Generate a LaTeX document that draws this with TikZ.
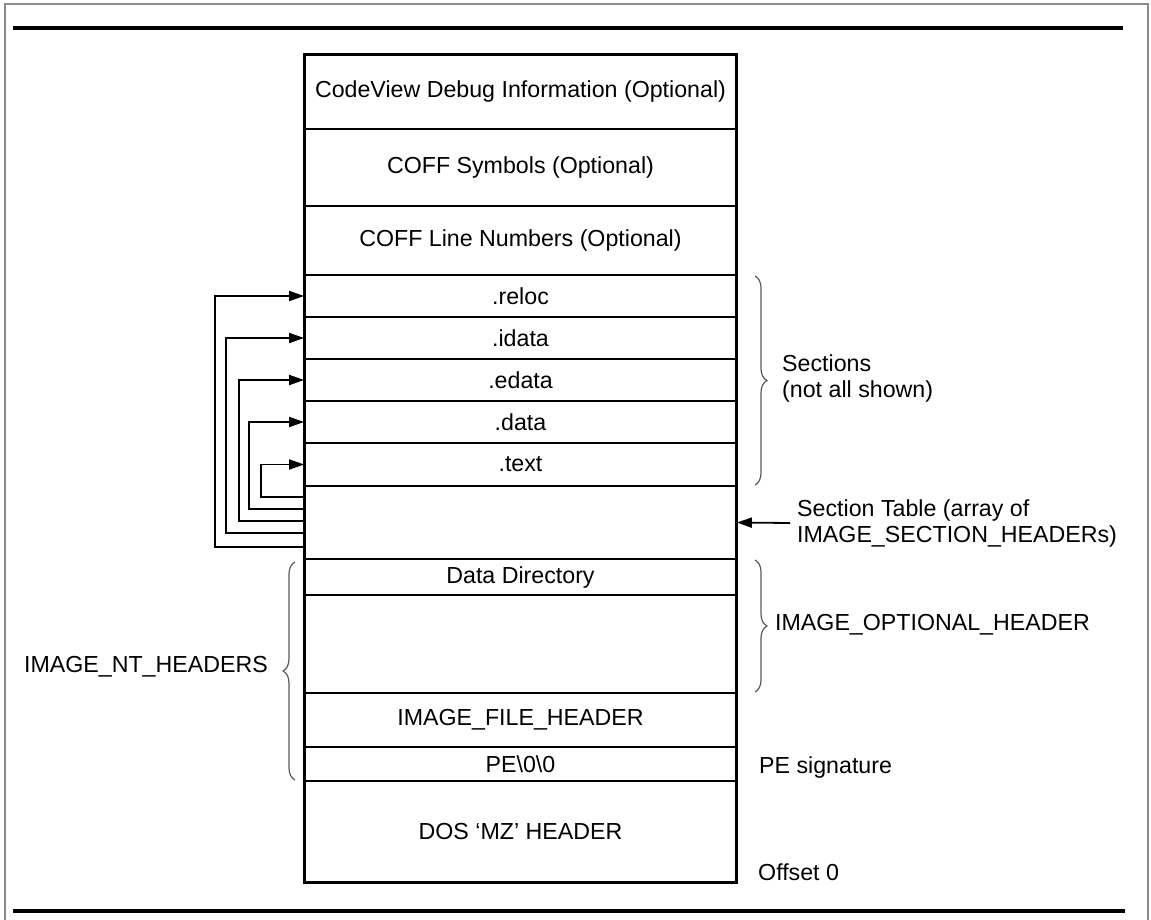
\documentclass[tikz,border=0pt]{standalone}
\usepackage{fontspec}
\setmainfont{Liberation Sans}
\usetikzlibrary{arrows.meta,decorations.pathreplacing}
\begin{document}
\begin{tikzpicture}[x=1pt,y=-1pt,
  every node/.style={font=\fontsize{23.2}{26}\selectfont},
  row/.style={draw,line width=1.8pt,minimum width=431pt,inner sep=0pt,anchor=center},
  conn/.style={line width=1.8pt,-{Triangle[length=15pt,width=10pt]}},
  brc/.style={decorate,decoration={brace,amplitude=12pt},line width=1.2pt,draw=black!65},
  lbl/.style={anchor=west,inner sep=0pt,align=left}]
\useasboundingbox (0,0) rectangle (1151,920);
% frame
\draw[black!45,line width=1.5pt] (5,920) -- (5,4) -- (1148,4) -- (1148,920);
\draw[line width=4pt] (13,28) -- (1123,28);
\draw[line width=3.5pt] (13,911) -- (1125,911);
% rows
\node[row,minimum height=74pt] (cv) at (520.5,92) {CodeView Debug Information (Optional)};
\node[row,minimum height=77pt] (sym) at (520.5,167.5) {COFF Symbols (Optional)};
\node[row,minimum height=69pt] (lin) at (520.5,240.5) {COFF Line Numbers (Optional)};
\node[row,minimum height=42pt] (reloc) at (520.5,296) {.reloc};
\node[row,minimum height=42pt] (idata) at (520.5,338) {.idata};
\node[row,minimum height=42pt] (edata) at (520.5,380) {.edata};
\node[row,minimum height=42pt] (data) at (520.5,422) {.data};
\node[row,minimum height=43pt] (text) at (520.5,464.5) {.text};
\node[row,minimum height=73pt] (stab) at (520.5,522.5) {};
\node[row,minimum height=36pt] (ddir) at (520.5,577) {Data Directory};
\node[row,minimum height=98pt] (opt) at (520.5,644) {};
\node[row,minimum height=54pt] (fh) at (520.5,720) {IMAGE\_FILE\_HEADER};
\node[row,minimum height=34pt] (pe) at (520.5,764) {PE\textbackslash 0\textbackslash 0};
\node[row,minimum height=101pt] (dos) at (520.5,831.5) {DOS ‘MZ’ HEADER};
\draw[line width=3pt] (cv.north west) rectangle (dos.south east);
% left connectors
\draw[conn] (stab.west |- 0,547) -| (215,0 |- reloc.west) -- (reloc.west);
\draw[conn] (stab.west |- 0,533) -| (226,0 |- idata.west) -- (idata.west);
\draw[conn] (stab.west |- 0,521) -| (239,0 |- edata.west) -- (edata.west);
\draw[conn] (stab.west |- 0,509) -| (249,0 |- data.west) -- (data.west);
\draw[conn] (stab.west |- 0,497) -| (261,0 |- text.west) -- (text.west);
% braces
\draw[brc] (755,276) -- (755,485);
\draw[brc] (755,560) -- (755,692);
\draw[brc] (295,780) -- (295,562);
% labels
\node[lbl] (sec) at (782,378) {Sections\\(not all shown)};
\node[lbl] (sectab) at (797,523) {Section Table (array of\\IMAGE\_SECTION\_HEADERs)};
\draw[conn] ([xshift=-7pt]sectab.west) -- (stab.east);
\node[lbl] (opthdr) at (775,625) {IMAGE\_OPTIONAL\_HEADER};
\node[lbl] (pesig) at (759,767) {PE signature};
\node[lbl] (off) at (758,872) {Offset 0};
\node[anchor=east,inner sep=0pt] (nt) at (268,667) {IMAGE\_NT\_HEADERS};
\end{tikzpicture}
\end{document}
